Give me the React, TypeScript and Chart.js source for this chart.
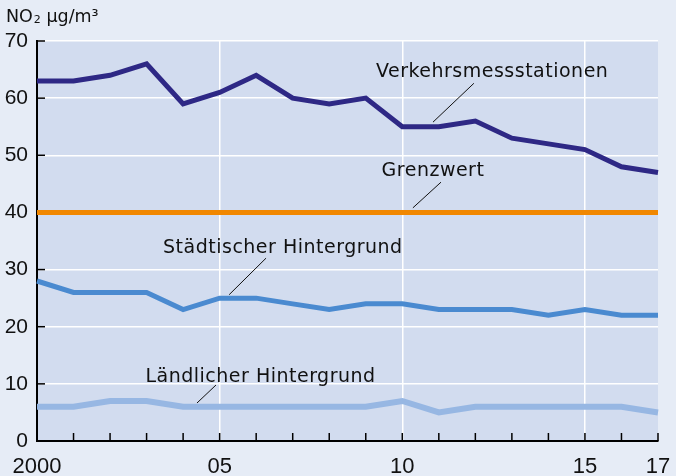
import React, { useEffect, useRef } from 'react';
import { Chart, registerables } from 'chart.js';

Chart.register(...registerables);

const years = ['2000', '01', '02', '03', '04', '05', '06', '07', '08', '09', '10', '11', '12', '13', '14', '15', '16', '17'];
const shownYears = ['2000', '05', '10', '15', '17'];
const gridYears = ['05', '10', '15'];

const verkehrsmessstationen = [63, 63, 64, 66, 59, 61, 64, 60, 59, 60, 55, 55, 56, 53, 52, 51, 48, 47];
const grenzwert = [40, 40, 40, 40, 40, 40, 40, 40, 40, 40, 40, 40, 40, 40, 40, 40, 40, 40];
const staedtischerHintergrund = [28, 26, 26, 26, 23, 25, 25, 24, 23, 24, 24, 23, 23, 23, 22, 23, 22, 22];
const laendlicherHintergrund = [6, 6, 7, 7, 6, 6, 6, 6, 6, 6, 7, 5, 6, 6, 6, 6, 6, 5];

const yMin = 0;
const yMax = 70;
const yStep = 10;

const unitTitle = { main: 'NO', sub: '2', rest: ' µg/m³' };

// label positions in data units (category index, value); text y = baseline
const annotations = [
  { text: 'Verkehrsmessstationen', x: 12.46, y: 63.75, from: [10.84, 55.8], to: [11.96, 62.6] },
  { text: 'Grenzwert', x: 10.84, y: 46.4, from: [10.29, 40.8], to: [11.06, 45.3] },
  { text: 'Städtischer Hintergrund', x: 6.73, y: 32.85, from: [5.26, 25.6], to: [6.27, 32.0] },
  { text: 'Ländlicher Hintergrund', x: 6.12, y: 10.38, from: [4.38, 6.65], to: [4.9, 9.8] },
];

const FONT = "'DejaVu Sans', sans-serif";
const TICK_FONT = "'Liberation Sans', Arial, sans-serif";
const PAGE_BG = '#E6ECF6';
const PLOT_BG = '#D2DCEF';

const decorPlugin = {
  id: 'decor',
  beforeDraw(chart: any) {
    const { ctx, chartArea } = chart;
    ctx.save();
    ctx.fillStyle = PAGE_BG;
    ctx.fillRect(0, 0, chart.width, chart.height);
    ctx.fillStyle = PLOT_BG;
    ctx.fillRect(chartArea.left, chartArea.top, chartArea.right - chartArea.left, chartArea.bottom - chartArea.top);
    // unit title
    ctx.fillStyle = '#111';
    ctx.textBaseline = 'alphabetic';
    ctx.textAlign = 'left';
    ctx.font = `17.5px ${FONT}`;
    let x = 6;
    const y = 22;
    ctx.fillText(unitTitle.main, x, y);
    x += ctx.measureText(unitTitle.main).width;
    ctx.font = `11px ${FONT}`;
    ctx.fillText(unitTitle.sub, x + 1, y + 1);
    x += ctx.measureText(unitTitle.sub).width + 1;
    ctx.font = `17.5px ${FONT}`;
    ctx.fillText(unitTitle.rest, x, y);
    ctx.restore();
  },
  beforeDatasetsDraw(chart: any) {
    const { ctx, chartArea, scales } = chart;
    ctx.save();
    ctx.strokeStyle = '#000';
    ctx.lineWidth = 1.5;
    years.forEach((_, i) => {
      const px = scales.x.getPixelForValue(i);
      ctx.beginPath();
      ctx.moveTo(px, chartArea.bottom);
      ctx.lineTo(px, chartArea.bottom - 8);
      ctx.stroke();
    });
    scales.y.ticks.forEach((t: any) => {
      const py = scales.y.getPixelForValue(t.value);
      ctx.beginPath();
      ctx.moveTo(chartArea.left, py);
      ctx.lineTo(chartArea.left + 8, py);
      ctx.stroke();
    });
    // x-axis year labels
    ctx.fillStyle = '#111';
    ctx.font = `22px ${TICK_FONT}`;
    ctx.textAlign = 'center';
    ctx.textBaseline = 'alphabetic';
    years.forEach((label, i) => {
      if (!shownYears.includes(label)) return;
      ctx.fillText(label, scales.x.getPixelForValue(i), chartArea.bottom + 32);
    });
    ctx.restore();
  },
  afterDatasetsDraw(chart: any) {
    const { ctx, scales } = chart;
    ctx.save();
    ctx.fillStyle = '#111';
    ctx.strokeStyle = '#111';
    ctx.lineWidth = 1;
    ctx.font = `19px ${FONT}`;
    (ctx as any).letterSpacing = '0.5px';
    ctx.textAlign = 'center';
    ctx.textBaseline = 'alphabetic';
    annotations.forEach((a) => {
      ctx.fillText(a.text, scales.x.getPixelForValue(a.x), scales.y.getPixelForValue(a.y));
      ctx.beginPath();
      ctx.moveTo(scales.x.getPixelForValue(a.from[0]), scales.y.getPixelForValue(a.from[1]));
      ctx.lineTo(scales.x.getPixelForValue(a.to[0]), scales.y.getPixelForValue(a.to[1]));
      ctx.stroke();
    });
    (ctx as any).letterSpacing = '0px';
    ctx.restore();
  },
};

export default function App() {
  const ref = useRef<HTMLCanvasElement>(null);
  useEffect(() => {
    document.body.style.margin = '0';
    document.body.style.background = PAGE_BG;
    const chart = new Chart(ref.current as HTMLCanvasElement, {
      type: 'line',
      data: {
        labels: years,
        datasets: [
          { label: 'Verkehrsmessstationen', data: verkehrsmessstationen, borderColor: '#2E2885', borderWidth: 5 },
          { label: 'Grenzwert', data: grenzwert, borderColor: '#F18700', borderWidth: 5 },
          { label: 'Städtischer Hintergrund', data: staedtischerHintergrund, borderColor: '#4A8AD0', borderWidth: 5 },
          { label: 'Ländlicher Hintergrund', data: laendlicherHintergrund, borderColor: '#97B7E3', borderWidth: 6 },
        ].map((d) => ({ ...d, pointRadius: 0, tension: 0, fill: false, borderJoinStyle: 'miter' as const, borderCapStyle: 'butt' as const })),
      },
      options: {
        responsive: false,
        animation: false,
        layout: { padding: { top: 41, right: 18, left: 0, bottom: 0 } },
        plugins: { legend: { display: false }, tooltip: { enabled: false } },
        scales: {
          x: {
            type: 'category',
            offset: false,
            grid: {
              color: (c: any) => (gridYears.includes(years[c.index]) ? '#FFFFFF' : 'rgba(0,0,0,0)'),
              lineWidth: 1.5,
              drawTicks: false,
            },
            border: { color: '#000', width: 2 },
            ticks: { display: false, autoSkip: false },
            afterFit: (s: any) => {
              s.height = 35;
              s.paddingLeft = 0;
              s.paddingRight = 0;
            },
          },
          y: {
            min: yMin,
            max: yMax,
            ticks: { stepSize: yStep, color: '#111', font: { family: TICK_FONT, size: 21 }, padding: 9 },
            grid: {
              color: (c: any) => (c.tick && c.tick.value === 0 ? 'rgba(0,0,0,0)' : '#FFFFFF'),
              lineWidth: 1.5,
              drawTicks: false,
            },
            border: { color: '#000', width: 2 },
            afterFit: (s: any) => {
              s.width = 37;
              s.paddingTop = 0;
              s.paddingBottom = 0;
            },
          },
        },
      },
      plugins: [decorPlugin],
    });
    return () => chart.destroy();
  }, []);
  return <canvas ref={ref} width={676} height={476} style={{ display: 'block' }} />;
}
